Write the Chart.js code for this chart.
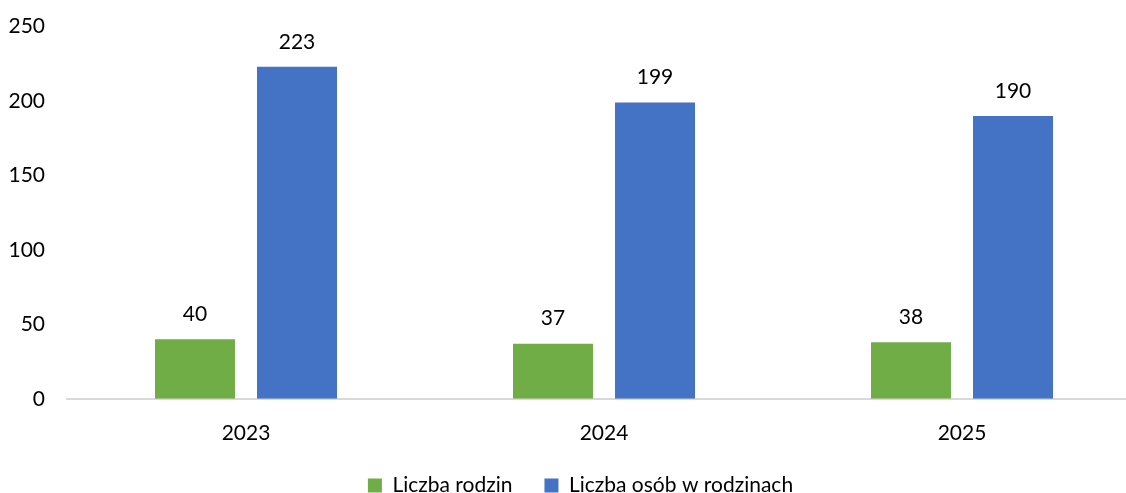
<!DOCTYPE html>
<html>
<head>
<meta charset="utf-8">
<script src="https://cdn.jsdelivr.net/npm/chart.js@4"></script>
<style>
  html, body { margin: 0; padding: 0; background: #fff; overflow: hidden; }
  #wrap { width: 1145px; height: 493px; position: relative; }
</style>
</head>
<body>
<div id="wrap"><canvas id="chart"></canvas></div>
<script>
const years = ["2023", "2024", "2025"];
const families = [40, 37, 38];
const persons = [223, 199, 190];
const seriesNames = ["Liczba rodzin", "Liczba osób w rodzinach"];

const FONT = "Lato, 'Open Sans', sans-serif";
const SIZE = 21;

// draws the value above each bar
const barValues = {
  id: "barValues",
  afterDatasetsDraw(chart) {
    const ctx = chart.ctx;
    ctx.save();
    ctx.font = SIZE + "px " + FONT;
    ctx.fillStyle = "#000";
    ctx.textAlign = "center";
    ctx.textBaseline = "middle";
    chart.data.datasets.forEach((ds, i) => {
      chart.getDatasetMeta(i).data.forEach((bar, j) => {
        ctx.fillText(ds.data[j], bar.x, bar.y - 25);
      });
    });
    ctx.restore();
  }
};

// legend: wide gap between items but a shorter box, nudged into place
const legendTweak = {
  id: "legendTweak",
  beforeInit(chart) {
    const legend = chart.legend;
    if (!legend) return;
    const fit = legend.fit.bind(legend);
    legend.fit = function () {
      fit();
      this.height = 33;
    };
  },
  afterLayout(chart) {
    const lg = chart.legend;
    if (!lg) return;
    lg.left += 10;
    lg.right += 10;
    lg.top -= 17;
  }
};

new Chart(document.getElementById("chart"), {
  type: "bar",
  data: {
    labels: years,
    datasets: [
      { label: seriesNames[0], data: families, backgroundColor: "#70AD47" },
      { label: seriesNames[1], data: persons, backgroundColor: "#4472C4" }
    ]
  },
  options: {
    responsive: true,
    maintainAspectRatio: false,
    animation: false,
    categoryPercentage: 0.57,
    barPercentage: 0.784,
    layout: { padding: { top: 1, left: 0, right: 4, bottom: 0 } },
    plugins: {
      legend: {
        position: "bottom",
        labels: {
          boxWidth: 14,
          boxHeight: 14,
          padding: 32,
          color: "#000",
          font: { family: FONT, size: SIZE }
        }
      },
      tooltip: { enabled: false }
    },
    scales: {
      x: {
        grid: { display: false },
        border: { display: true, color: "#d9d9d9", width: 2 },
        ticks: { color: "#000", padding: 14, font: { family: FONT, size: SIZE } }
      },
      y: {
        min: 0,
        max: 250,
        grid: { display: false },
        border: { display: false },
        afterFit(scale) { scale.width = 67; },
        ticks: { stepSize: 50, color: "#000", padding: 14, font: { family: FONT, size: SIZE } }
      }
    }
  },
  plugins: [barValues, legendTweak]
});
</script>
</body>
</html>
